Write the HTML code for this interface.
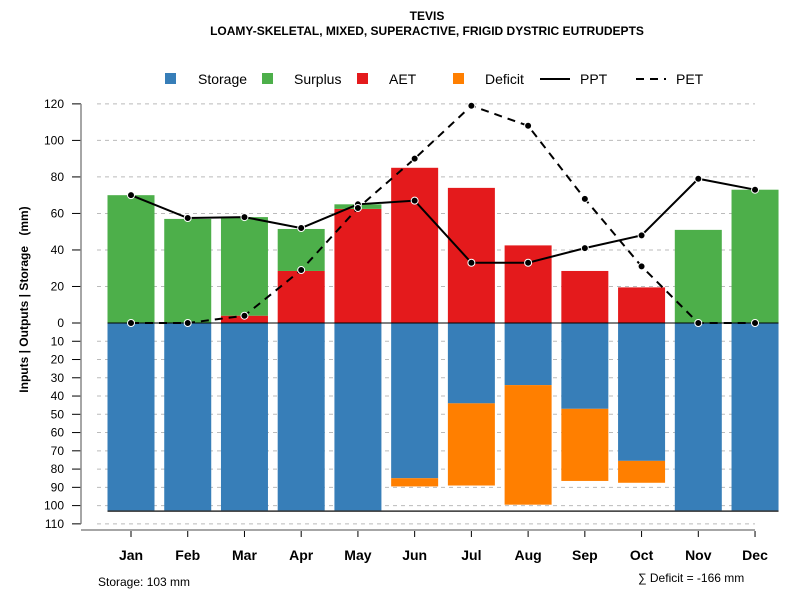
<!DOCTYPE html>
<html><head><meta charset="utf-8"><style>
body{margin:0;background:#fff;font-family:"Liberation Sans",sans-serif}
</style></head><body>
<svg id="c" width="800" height="600" xmlns="http://www.w3.org/2000/svg" font-family="Liberation Sans, sans-serif">
<text x="427" y="20" font-size="12" font-weight="bold" text-anchor="middle">TEVIS</text>
<text x="427" y="35" font-size="12" font-weight="bold" text-anchor="middle">LOAMY-SKELETAL, MIXED, SUPERACTIVE, FRIGID DYSTRIC EUTRUDEPTS</text>
<g id="grid"></g>
<g id="bars"></g>
<g id="lines"></g>
<g id="axes"></g>
<text x="28" y="246" font-size="12" font-weight="bold" text-anchor="end" transform="rotate(-90 28 246)">Inputs | Outputs | Storage</text>
<text x="28" y="221" font-size="12" font-weight="bold" text-anchor="middle" transform="rotate(-90 28 221)">(mm)</text>
<text x="98" y="586" font-size="12">Storage: 103 mm</text>
<text x="638" y="582" font-size="12">∑ Deficit = -166 mm</text>
<g font-size="14">
<rect x="165" y="73" width="11" height="11" fill="#377EB8"/>
<text x="198" y="84">Storage</text>
<rect x="262" y="73" width="11" height="11" fill="#4DAF4A"/>
<text x="294" y="84">Surplus</text>
<rect x="357" y="73" width="11" height="11" fill="#E41A1C"/>
<text x="389" y="84">AET</text>
<rect x="453" y="73" width="11" height="11" fill="#FF7F00"/>
<text x="485" y="84">Deficit</text>
<line x1="540" y1="79" x2="570" y2="79" stroke="#000" stroke-width="2"/>
<text x="580" y="84">PPT</text>
<line x1="636" y1="79" x2="666" y2="79" stroke="#000" stroke-width="2" stroke-dasharray="8,6"/>
<text x="676" y="84">PET</text>
</g>
</svg>
<script>
const months=["Jan","Feb","Mar","Apr","May","Jun","Jul","Aug","Sep","Oct","Nov","Dec"];
const storage=[103,103,103,103,103,85,44,34,47,75.5,103,103];
const deficit=[0,0,0,0,0,4.5,45,65.5,39.5,12,0,0];
const aet=[0,0,4,28.5,62.5,85,74,42.5,28.5,19.5,0,0];
const surplus=[70,57,54,23,2.5,0,0,0,0,0,51,73];
const ppt=[70,57.5,58,52,65,67,33,33,41,48,79,73];
const pet=[0,0,4,29,63,90,119,108,68,31,0,0];
const posTicks=[0,20,40,60,80,100,120];
const negTicks=[10,20,30,40,50,60,70,80,90,100,110];
const NS="http://www.w3.org/2000/svg";
const y=v=>323-v*1.826;
const x=i=>131+i*56.73;
const bw=47;
function mk(tag,attrs,parent){const e=document.createElementNS(NS,tag);for(const k in attrs)e.setAttribute(k,attrs[k]);document.getElementById(parent).appendChild(e);return e;}
posTicks.concat(negTicks.map(v=>-v)).forEach(v=>{
 if(v!==0){const g=mk('line',{x1:97,x2:755,y1:y(v),y2:y(v),stroke:'#bbb','stroke-dasharray':'4,4'},'grid');
 
 }
 const t=mk('text',{x:64,y:y(v)+4,'font-size':12,'text-anchor':'end'},'axes');t.textContent=Math.abs(v);
 
 
 const tk=mk('line',{x1:72,x2:81,y1:y(v),y2:y(v),stroke:'#000'},'axes');
 
 
});
mk('line',{x1:81,x2:81,y1:y(120),y2:y(-110),stroke:'#888','stroke-width':1.5},'axes');
months.forEach((m,i)=>{
 const cx=x(i);
 let r=mk('rect',{x:cx-bw/2,y:y(0),width:bw,height:y(-storage[i])-y(0),fill:'#377EB8'},'bars');
 
 
 if(deficit[i]>0){r=mk('rect',{x:cx-bw/2,y:y(-storage[i]),width:bw,height:y(-storage[i]-deficit[i])-y(-storage[i]),fill:'#FF7F00'},'bars');
 
 }
 if(aet[i]>0){r=mk('rect',{x:cx-bw/2,y:y(aet[i]),width:bw,height:y(0)-y(aet[i]),fill:'#E41A1C'},'bars');
 
 }
 if(surplus[i]>0){r=mk('rect',{x:cx-bw/2,y:y(aet[i]+surplus[i]),width:bw,height:y(aet[i])-y(aet[i]+surplus[i]),fill:'#4DAF4A'},'bars');
 
 }
 const t=mk('text',{x:cx,y:560,'font-size':14,'font-weight':'bold','text-anchor':'middle'},'axes');t.textContent=m;
 
 
 const tk=mk('line',{x1:cx,x2:cx,y1:531,y2:537,stroke:'#000'},'axes');
 
 
});
mk('line',{x1:81,x2:755,y1:530,y2:530,stroke:'#888','stroke-width':1.5},'axes');
let l=mk('line',{x1:x(0)-bw/2,x2:x(11)+bw/2,y1:y(0),y2:y(0),stroke:'#000','stroke-width':1},'lines');


l=mk('line',{x1:x(0)-bw/2,x2:x(11)+bw/2,y1:y(-103),y2:y(-103),stroke:'#333','stroke-width':1.5},'lines');


[[ppt,'','ppt'],[pet,'8,6','pet']].forEach(([d,dash,n])=>{
 const p=mk('polyline',{points:d.map((v,i)=>x(i)+','+y(v)).join(' '),fill:'none',stroke:'#000','stroke-width':2,'stroke-dasharray':dash},'lines');
 
 
 d.forEach((v,i)=>{const c=mk('circle',{cx:x(i),cy:y(v),r:3.5,fill:'#000',stroke:'#fff','stroke-width':1},'lines');
 
 });
});
</script>
</body></html>
